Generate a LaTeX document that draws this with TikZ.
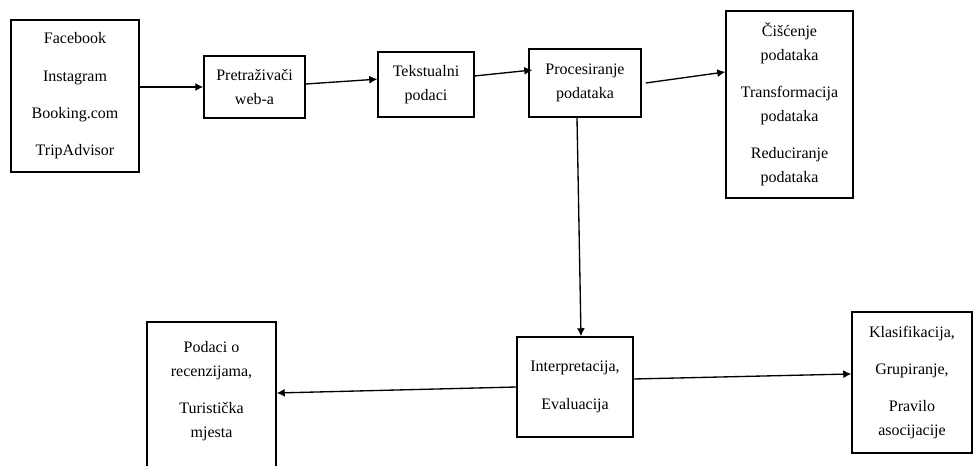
\documentclass[tikz,border=0pt]{standalone}
\usepackage{fontspec}
\setmainfont{Liberation Serif}
\usetikzlibrary{arrows.meta}

\begin{document}
\begin{tikzpicture}[x=0.75pt, y=-0.75pt,
  box/.style={draw, line width=1.1pt, align=center, inner sep=0pt,
    font=\fontsize{12}{18}\selectfont},
  txt/.style={align=center, inner sep=0pt, font=\fontsize{12}{18}\selectfont},
  arr/.style={line width=1pt, -{Latex[length=6pt, width=6pt]}}]
  \useasboundingbox (0,0) rectangle (973,466);
  \node[box, minimum width=96pt, minimum height=114pt] (src) at (75,96)
    {Facebook\\[10pt] Instagram\\[10pt] Booking.com\\[10pt] TripAdvisor};
  \node[box, minimum width=75.75pt, minimum height=46.5pt] (web) at (254.5,87)
    {Pretraživači\\ web-a};
  \node[box, minimum width=72pt, minimum height=48.75pt] (tekst) at (426,84.5)
    {Tekstualni\\ podaci};
  \node[box, minimum width=84pt, minimum height=51pt] (proc) at (585,83)
    {Procesiranje\\ podataka};
  \node[box, minimum width=95.25pt, minimum height=140.25pt] (prep) at (789.5,104.5)
    {Čišćenje\\ podataka\\[10pt] Transformacija\\ podataka\\[10pt] Reduciranje\\ podataka};
  \node[box, minimum width=87pt, minimum height=75pt] (interp) at (575,387)
    {Interpretacija,\\[10pt] Evaluacija};
  \node[box, minimum width=96.75pt, minimum height=111pt] (rez) at (211.5,396) {};
  \node[txt] (rezt) at (211.5,391)
    {Podaci o\\ recenzijama,\\[10pt] Turistička\\ mjesta};
  \node[box, minimum width=90pt, minimum height=105.75pt] (klas) at (912,382.5)
    {Klasifikacija,\\[10pt] Grupiranje,\\[10pt] Pravilo\\ asocijacije};
  \draw[arr] (src.east |- web.west) -- (web.west);
  \draw[arr] ([yshift=2.25pt]web.east) -- ([yshift=4pt]tekst.west);
  \draw[arr] ([yshift=6.4pt]tekst.east) -- ([xshift=3pt, yshift=9.75pt]proc.west);
  \draw[arr] ([xshift=3pt]proc.east) -- ([yshift=24.4pt]prep.west);
  \draw[arr] ([xshift=-6pt]proc.south) -- ([xshift=4.5pt]interp.north);
  \draw[arr] (interp.west) -- ([yshift=2.25pt]rez.east);
  \draw[arr] ([yshift=6pt]interp.east) -- ([yshift=6.4pt]klas.west);
\end{tikzpicture}
\end{document}
